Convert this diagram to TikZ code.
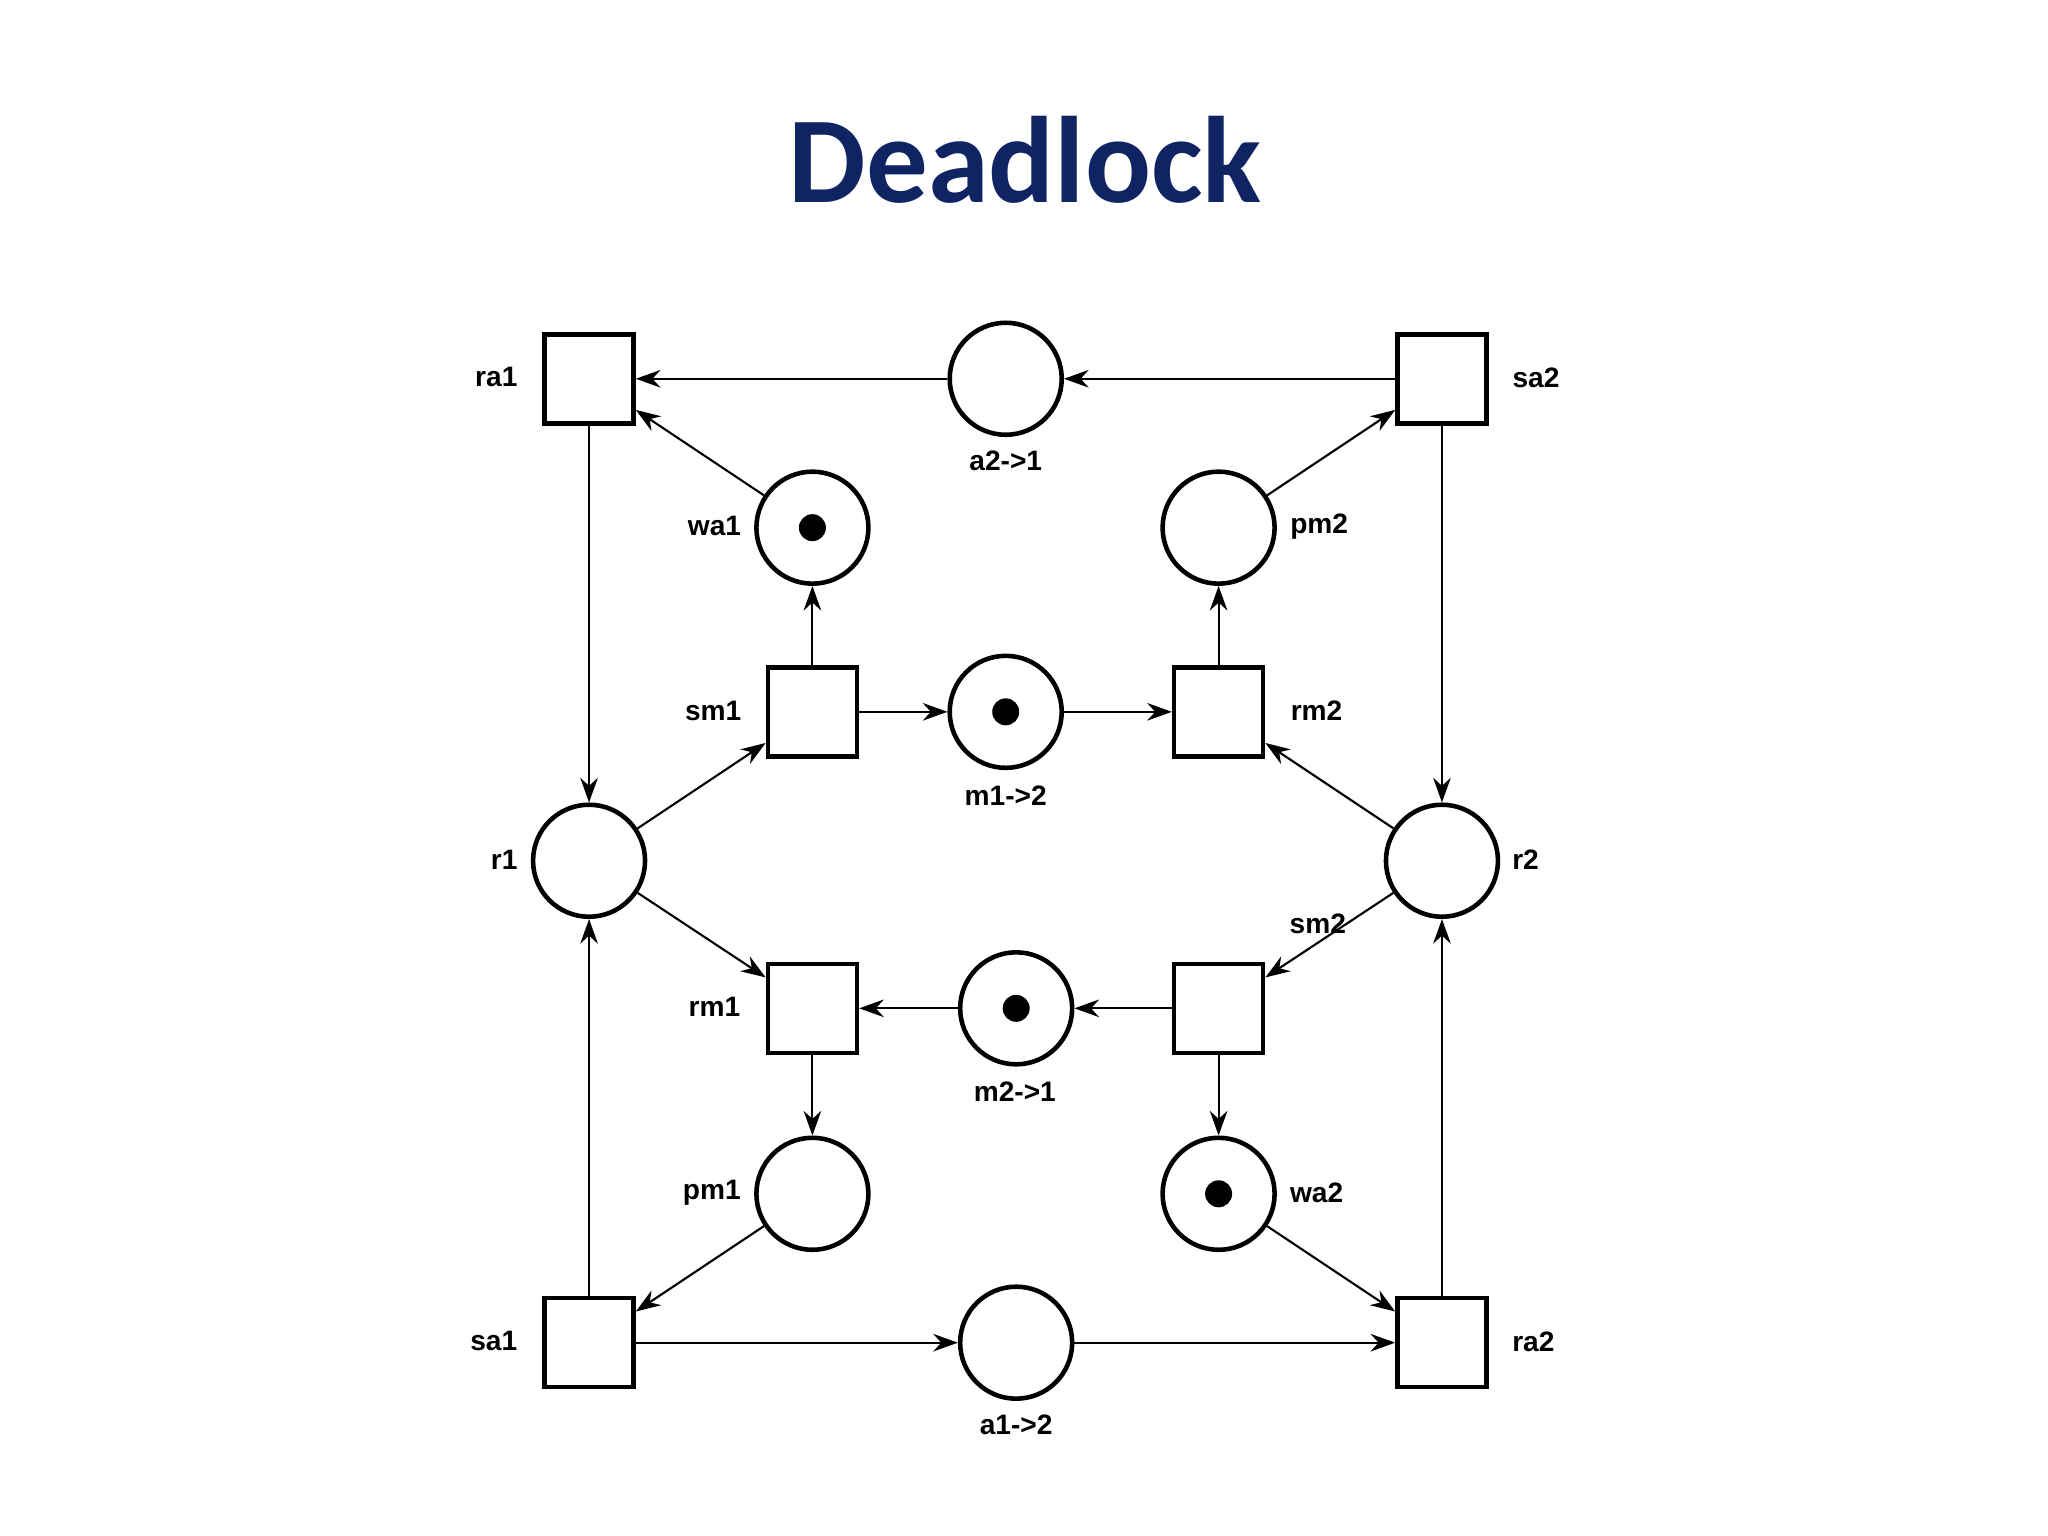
\documentclass[tikz,border=0pt]{standalone}
\usepackage{fontspec}
\setmainfont{Liberation Sans}
\newfontfamily\titlefont{Carlito}
\usetikzlibrary{arrows.meta}
\definecolor{navy}{RGB}{16,36,100}
\begin{document}
\begin{tikzpicture}[x=0.01306cm,y=-0.01306cm,
  place/.style={circle,draw,line width=1.3pt,minimum size=1.12cm,inner sep=0pt},
  trans/.style={rectangle,draw,line width=1.3pt,minimum size=0.89cm,inner sep=0pt},
  tok/.style={place,label={[circle,fill,inner sep=0pt,minimum size=0.27cm]center:}},
  lbl/.style={font=\bfseries\fontsize{8pt}{9pt}\selectfont},
  arc/.style={-{Stealth[length=7pt,width=5pt]},line width=0.6pt}]
\useasboundingbox (0,0) rectangle (1568,1176);
\node[font=\titlefont\bfseries\fontsize{35pt}{40pt}\selectfont,text=navy] (title) at (785,122) {Deadlock};
\node[trans] (ra1) at (451,290) {};
\node[place] (a21) at (770,290) {};
\node[trans] (sa2) at (1104,290) {};
\node[tok] (wa1) at (622,404) {};
\node[place] (pm2) at (933,404) {};
\node[trans] (sm1) at (622,545) {};
\node[tok] (m12) at (770,545) {};
\node[trans] (rm2) at (933,545) {};
\node[place] (r1) at (451,659) {};
\node[place] (r2) at (1104,659) {};
\node[trans] (rm1) at (622,772) {};
\node[tok] (m21) at (778,772) {};
\node[trans] (sm2) at (933,772) {};
\node[place] (pm1) at (622,914) {};
\node[tok] (wa2) at (933,914) {};
\node[trans] (sa1) at (451,1028) {};
\node[place] (a12) at (778,1028) {};
\node[trans] (ra2) at (1104,1028) {};
\node[lbl] (lra1) at (380,289) {ra1};
\node[lbl] (lsa2) at (1176,289) {sa2};
\node[lbl] (la21) at (770,353) {a2->1};
\node[lbl] (lwa1) at (547,403) {wa1};
\node[lbl] (lpm2) at (1010,403) {pm2};
\node[lbl] (lsm1) at (546,544) {sm1};
\node[lbl] (lrm2) at (1008,544) {rm2};
\node[lbl] (lm12) at (770,609) {m1->2};
\node[lbl] (lr1) at (386,658) {r1};
\node[lbl] (lr2) at (1168,658) {r2};
\node[lbl] (lsm2) at (1009,707) {sm2};
\node[lbl] (lrm1) at (547,771) {rm1};
\node[lbl] (lm21) at (777,836) {m2->1};
\node[lbl] (lpm1) at (545,913) {pm1};
\node[lbl] (lwa2) at (1008,913) {wa2};
\node[lbl] (lsa1) at (378,1027) {sa1};
\node[lbl] (lra2) at (1174,1027) {ra2};
\node[lbl] (la12) at (778,1091) {a1->2};
\draw[arc] (sa2) -- (a21);
\draw[arc] (a21) -- (ra1);
\draw[arc] (ra1) -- (r1);
\draw[arc] (wa1) -- (ra1);
\draw[arc] (sm1) -- (wa1);
\draw[arc] (sm1) -- (m12);
\draw[arc] (m12) -- (rm2);
\draw[arc] (rm2) -- (pm2);
\draw[arc] (pm2) -- (sa2);
\draw[arc] (sa2) -- (r2);
\draw[arc] (r2) -- (rm2);
\draw[arc] (r1) -- (sm1);
\draw[arc] (r1) -- (rm1);
\draw[arc] (r2) -- (sm2);
\draw[arc] (sm2) -- (m21);
\draw[arc] (m21) -- (rm1);
\draw[arc] (rm1) -- (pm1);
\draw[arc] (pm1) -- (sa1);
\draw[arc] (sa1) -- (r1);
\draw[arc] (sa1) -- (a12);
\draw[arc] (a12) -- (ra2);
\draw[arc] (sm2) -- (wa2);
\draw[arc] (wa2) -- (ra2);
\draw[arc] (ra2) -- (r2);
\end{tikzpicture}
\end{document}
